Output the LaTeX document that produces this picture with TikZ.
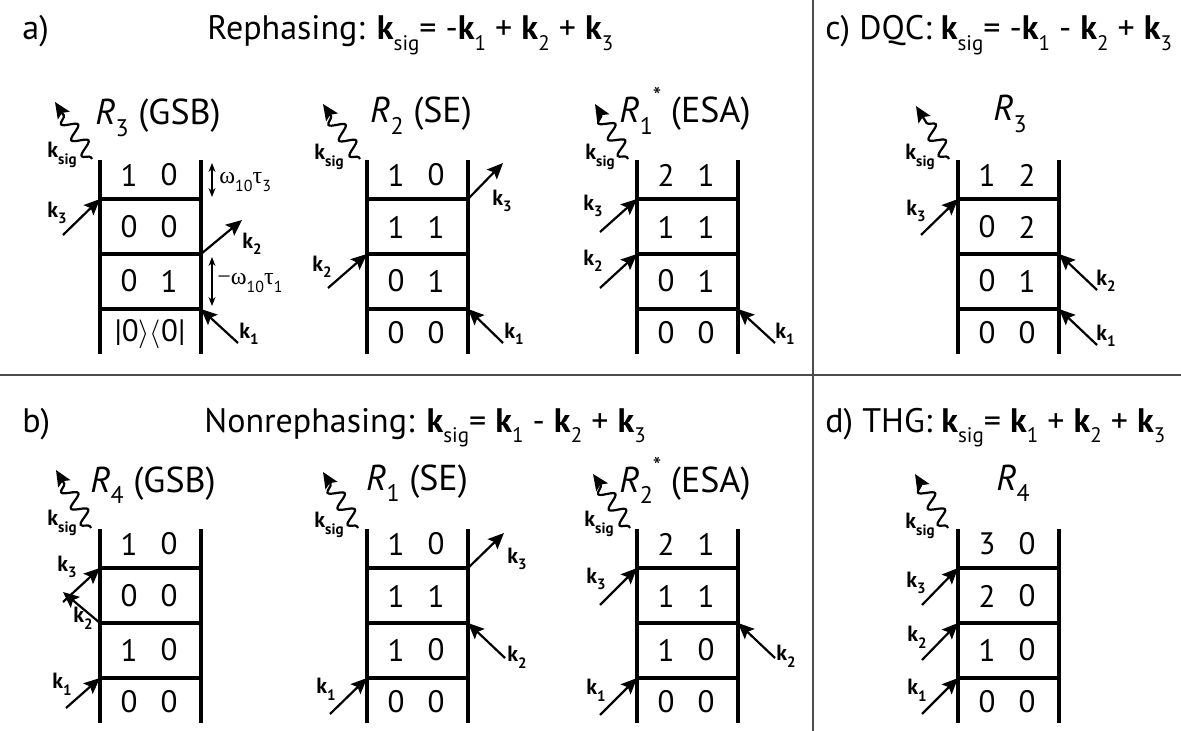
\documentclass[tikz,border=0pt]{standalone}
\usepackage{fontspec}
\setmainfont{PT Sans}
\newfontfamily\grk{Liberation Serif}
\usetikzlibrary{arrows.meta,decorations.pathmorphing,calc}

% wave vector with a lowered subscript
\newcommand\kk[1]{\textbf{k}\raisebox{-0.3em}{\fontsize{10.5}{10.5}\selectfont #1}}
\newcommand\ksub[1]{k\raisebox{-0.3em}{\fontsize{7.5}{7.5}\selectfont #1}}
% response function name R_n with optional superscript
\newcommand\rt[2]{\textit{R}\raisebox{-0.33em}{\fontsize{12}{12}\selectfont #1}#2}
\newcommand\cc{\raisebox{0.5em}{\fontsize{12}{12}\selectfont *}}

\tikzset{
  ladderline/.style={line width=1.7pt},
  tip/.style={-{Stealth[length=8pt,width=7pt,inset=1.5pt]}},
  karrow/.style={line width=1.1pt,tip},
  sigarrow/.style={line width=1.1pt,tip,
    decorate,decoration={snake,amplitude=3.6pt,segment length=9.5pt,pre length=1pt,post length=5.5pt}},
  pop/.style={font=\fontsize{15.5}{16}\selectfont,inner sep=0pt},
  klabel/.style={font=\fontsize{11}{12}\selectfont\bfseries,inner sep=0pt},
  rtitle/.style={font=\fontsize{18}{20}\selectfont,anchor=base,inner sep=0pt},
  headline/.style={font=\fontsize{17}{19}\selectfont,anchor=base west,inner sep=0pt},
  sep/.style={line width=1pt,draw=black!70},
  tick/.style={line width=0.6pt,{Stealth[length=4.5pt,width=3.5pt]}-{Stealth[length=4.5pt,width=3.5pt]}},
  note/.style={font=\fontsize{12}{13}\selectfont,anchor=west,inner sep=0pt},
}

% double-sided ladder: #1 name, (#2,#3) top left corner
\newcommand\ladder[3]{%
  \begin{scope}[shift={(#2,#3)}]
    \coordinate (#1-lt) at (0,0);   \coordinate (#1-rt) at (101,0);
    \coordinate (#1-l1) at (0,39);  \coordinate (#1-r1) at (101,39);
    \coordinate (#1-l2) at (0,94);  \coordinate (#1-r2) at (101,94);
    \coordinate (#1-l3) at (0,149); \coordinate (#1-r3) at (101,149);
    \coordinate (#1-lb) at (0,194); \coordinate (#1-rb) at (101,194);
  \end{scope}
  \draw[ladderline] (#1-lt) -- (#1-lb);
  \draw[ladderline] (#1-rt) -- (#1-rb);
  \draw[ladderline] (#1-l1) -- (#1-r1);
  \draw[ladderline] (#1-l2) -- (#1-r2);
  \draw[ladderline] (#1-l3) -- (#1-r3);
}
% one row of density matrix indices
\newcommand\prow[5]{%
  \node[pop] (#1-#2a) at ($(#1-lt)+(29,#3)$) {#4};
  \node[pop] (#1-#2b) at ($(#1-lt)+(69,#3)$) {#5};}
\newcommand\pops[9]{\prow{#1}{1}{15}{#2}{#3}\prow{#1}{2}{67}{#4}{#5}%
  \prow{#1}{3}{121}{#6}{#7}\prow{#1}{4}{173}{#8}{#9}}

\begin{document}
\begin{tikzpicture}[x=0.5pt,y=-0.5pt]
\useasboundingbox (0,0) rectangle (1181,731);

% panel separators
\coordinate (hl) at (0,375);  \coordinate (hr) at (1181,375);
\coordinate (vt) at (813,0);  \coordinate (vb) at (813,731);
\draw[sep] (hl) -- (hr);
\draw[sep] (vt) -- (vb);

% panel headings
\node[headline] (la) at (22,40) {a)};
\node[headline] (ta) at (207,40) {Rephasing: \kk{sig}= -\kk{1} + \kk{2} + \kk{3}};
\node[headline] (tc) at (825,40) {c) DQC: \kk{sig}= -\kk{1} - \kk{2} + \kk{3}};
\node[headline] (lb) at (22,432) {b)};
\node[headline] (tb) at (204,432) {Nonrephasing: \kk{sig}= \kk{1} - \kk{2} + \kk{3}};
\node[headline] (td) at (825,432) {d) THG: \kk{sig}= \kk{1} + \kk{2} + \kk{3}};

% ---------- a) rephasing ----------
\ladder{A}{100}{160}
\node[rtitle] (A-ti) at (158,125) {\rt{3}{} (GSB)};
\prow{A}{1}{15}{1}{0}\prow{A}{2}{67}{0}{0}\prow{A}{3}{121}{0}{1}
\node[pop] (A-4) at ($(A-lt)+(50,174)$) {|0$\rangle\langle$0|};
\coordinate (A-s0) at (92,159); \coordinate (A-s1) at (55,102);
\draw[sigarrow] (A-s0) -- (A-s1);
\node[klabel] (A-ks) at (62,155) {\ksub{sig}};
\coordinate (A-t3) at (63,235); \draw[karrow] (A-t3) -- (A-l1);
\node[klabel] (A-k3) at (57,213) {\ksub{3}};
\coordinate (A-h2) at (242,220); \draw[karrow] (A-r2) -- (A-h2);
\node[klabel] (A-k2) at (252,244) {\ksub{2}};
\coordinate (A-t1) at (238,343); \draw[karrow] (A-t1) -- (A-r3);
\node[klabel] (A-k1) at (249,334) {\ksub{1}};
\coordinate (A-w1) at (212,163); \coordinate (A-w2) at (212,197);
\draw[tick] (A-w1) -- (A-w2);
\node[note] (A-n3) at (219,182) {{\grk ω}\raisebox{-0.3em}{\fontsize{8}{8}\selectfont 10}{\grk τ}\raisebox{-0.3em}{\fontsize{8}{8}\selectfont 3}};
\coordinate (A-w3) at (212,257); \coordinate (A-w4) at (212,306);
\draw[tick] (A-w3) -- (A-w4);
\node[note] (A-n1) at (217,283) {{\grk −ω}\raisebox{-0.3em}{\fontsize{8}{8}\selectfont 10}{\grk τ}\raisebox{-0.3em}{\fontsize{8}{8}\selectfont 1}};

\ladder{B}{367}{160}
\node[rtitle] (B-ti) at (421,123) {\rt{2}{} (SE)};
\pops{B}{1}{0}{1}{1}{0}{1}{0}{0}
\coordinate (B-s0) at (360,159); \coordinate (B-s1) at (323,104);
\draw[sigarrow] (B-s0) -- (B-s1);
\node[klabel] (B-ks) at (329,157) {\ksub{sig}};
\coordinate (B-h3) at (503,163); \draw[karrow] (B-r1) -- (B-h3);
\node[klabel] (B-k3) at (502,201) {\ksub{3}};
\coordinate (B-t2) at (328,288); \draw[karrow] (B-t2) -- (B-l2);
\node[klabel] (B-k2) at (322,267) {\ksub{2}};
\coordinate (B-t1) at (503,343); \draw[karrow] (B-t1) -- (B-r3);
\node[klabel] (B-k1) at (514,334) {\ksub{1}};

\ladder{C}{637}{160}
\node[rtitle] (C-ti) at (685,123) {\rt{1}{\cc} (ESA)};
\pops{C}{2}{1}{1}{1}{0}{1}{0}{0}
\coordinate (C-s0) at (628,159); \coordinate (C-s1) at (595,104);
\draw[sigarrow] (C-s0) -- (C-s1);
\node[klabel] (C-ks) at (600,157) {\ksub{sig}};
\coordinate (C-t3) at (600,232); \draw[karrow] (C-t3) -- (C-l1);
\node[klabel] (C-k3) at (593,206) {\ksub{3}};
\coordinate (C-t2) at (600,288); \draw[karrow] (C-t2) -- (C-l2);
\node[klabel] (C-k2) at (593,261) {\ksub{2}};
\coordinate (C-t1) at (775,343); \draw[karrow] (C-t1) -- (C-r3);
\node[klabel] (C-k1) at (785,334) {\ksub{1}};

% ---------- c) double quantum coherence ----------
\ladder{D}{958}{160}
\node[rtitle] (D-ti) at (1010,121) {\rt{3}{}};
\pops{D}{1}{2}{0}{2}{0}{1}{0}{0}
\coordinate (D-s0) at (949,159); \coordinate (D-s1) at (916,106);
\draw[sigarrow] (D-s0) -- (D-s1);
\node[klabel] (D-ks) at (920,157) {\ksub{sig}};
\coordinate (D-t3) at (921,235); \draw[karrow] (D-t3) -- (D-l1);
\node[klabel] (D-k3) at (916,211) {\ksub{3}};
\coordinate (D-t2) at (1097,290); \draw[karrow] (D-t2) -- (D-r2);
\node[klabel] (D-k2) at (1106,281) {\ksub{2}};
\coordinate (D-t1) at (1097,345); \draw[karrow] (D-t1) -- (D-r3);
\node[klabel] (D-k1) at (1106,336) {\ksub{1}};

% ---------- b) nonrephasing ----------
\ladder{E}{100}{529}
\node[rtitle] (E-ti) at (153,492) {\rt{4}{} (GSB)};
\pops{E}{1}{0}{0}{0}{1}{0}{0}{0}
\coordinate (E-s0) at (91,528); \coordinate (E-s1) at (56,470);
\draw[sigarrow] (E-s0) -- (E-s1);
\node[klabel] (E-ks) at (62,523) {\ksub{sig}};
\coordinate (E-t3) at (63,602); \draw[karrow] (E-t3) -- (E-l1);
\node[klabel] (E-k3) at (67,567) {\ksub{3}};
\coordinate (E-h2) at (63,592); \draw[karrow] (E-l2) -- (E-h2);
\node[klabel] (E-k2) at (83,618) {\ksub{2}};
\coordinate (E-t1) at (66,708); \draw[karrow] (E-t1) -- (E-l3);
\node[klabel] (E-k1) at (62,684) {\ksub{1}};

\ladder{F}{367}{529}
\node[rtitle] (F-ti) at (417,490) {\rt{1}{} (SE)};
\pops{F}{1}{0}{1}{1}{1}{0}{0}{0}
\coordinate (F-s0) at (358,528); \coordinate (F-s1) at (323,472);
\draw[sigarrow] (F-s0) -- (F-s1);
\node[klabel] (F-ks) at (329,525) {\ksub{sig}};
\coordinate (F-h3) at (504,533); \draw[karrow] (F-r1) -- (F-h3);
\node[klabel] (F-k3) at (517,559) {\ksub{3}};
\coordinate (F-t2) at (505,658); \draw[karrow] (F-t2) -- (F-r2);
\node[klabel] (F-k2) at (517,657) {\ksub{2}};
\coordinate (F-t1) at (330,714); \draw[karrow] (F-t1) -- (F-l3);
\node[klabel] (F-k1) at (326,689) {\ksub{1}};

\ladder{G}{637}{529}
\node[rtitle] (G-ti) at (685,492) {\rt{2}{\cc} (ESA)};
\pops{G}{2}{1}{1}{1}{1}{0}{0}{0}
\coordinate (G-s0) at (630,528); \coordinate (G-s1) at (593,474);
\draw[sigarrow] (G-s0) -- (G-s1);
\node[klabel] (G-ks) at (599,524) {\ksub{sig}};
\coordinate (G-t3) at (600,605); \draw[karrow] (G-t3) -- (G-l1);
\node[klabel] (G-k3) at (596,579) {\ksub{3}};
\coordinate (G-t2) at (775,658); \draw[karrow] (G-t2) -- (G-r2);
\node[klabel] (G-k2) at (786,656) {\ksub{2}};
\coordinate (G-t1) at (600,715); \draw[karrow] (G-t1) -- (G-l3);
\node[klabel] (G-k1) at (596,690) {\ksub{1}};

% ---------- d) third harmonic generation ----------
\ladder{H}{958}{529}
\node[rtitle] (H-ti) at (1013,490) {\rt{4}{}};
\pops{H}{3}{0}{2}{0}{1}{0}{0}{0}
\coordinate (H-s0) at (948,528); \coordinate (H-s1) at (915,474);
\draw[sigarrow] (H-s0) -- (H-s1);
\node[klabel] (H-ks) at (920,526) {\ksub{sig}};
\coordinate (H-t3) at (922,605); \draw[karrow] (H-t3) -- (H-l1);
\node[klabel] (H-k3) at (916,583) {\ksub{3}};
\coordinate (H-t2) at (922,660); \draw[karrow] (H-t2) -- (H-l2);
\node[klabel] (H-k2) at (917,637) {\ksub{2}};
\coordinate (H-t1) at (922,714); \draw[karrow] (H-t1) -- (H-l3);
\node[klabel] (H-k1) at (917,690) {\ksub{1}};
\end{tikzpicture}
\end{document}
